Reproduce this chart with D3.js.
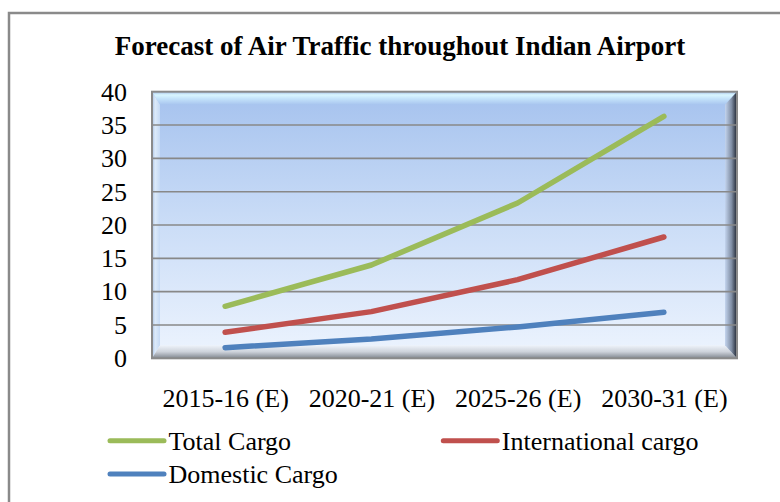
<!DOCTYPE html>
<html lang="en">

<head>
  <meta charset="UTF-8">
  <title>Forecast of Air Traffic throughout Indian Airport</title>
  <style>
    html,
    body {
      width: 100%;
      margin: 0;
      background: #fff;
    }

    svg {
      display: block;
    }

    .tick text {
      font: 26px 'Liberation Serif', 'Times New Roman', serif;
      fill: #000;
    }
  </style>
  <script src="https://cdn.jsdelivr.net/npm/d3@7"></script>
</head>

<body>
  <script>
    // canvas size
    const width = 780
    const height = 502

    // data
    const categories = ['2015-16 (E)', '2020-21 (E)', '2025-26 (E)', '2030-31 (E)']
    const totalCargo = [7.8, 14.0, 23.3, 36.3]
    const internationalCargo = [3.9, 7.0, 11.8, 18.2]
    const domesticCargo = [1.6, 2.9, 4.7, 6.9]
    const yTicks = [0, 5, 10, 15, 20, 25, 30, 35, 40]

    const series = [
      { name: 'Total Cargo', values: totalCargo, color: '#9BBB59' },
      { name: 'International cargo', values: internationalCargo, color: '#C0504D' },
      { name: 'Domestic Cargo', values: domesticCargo, color: '#4F81BD' }
    ]

    // plot box
    const plot = { left: 152, right: 737, top: 91.7, bottom: 358.3 }
    const bevel = { left: 8, right: 12, top: 13, bottom: 13 }

    const svg = d3.select('body').append('svg')
      .attr('width', width)
      .attr('height', height)

    // outer chart frame
    svg.append('rect')
      .attr('x', 9)
      .attr('y', 13)
      .attr('width', 800)
      .attr('height', 520)
      .attr('fill', 'none')
      .attr('stroke', '#8a8a8a')
      .attr('stroke-width', 2.5)

    // title
    svg.append('text')
      .attr('x', 400)
      .attr('y', 55)
      .attr('text-anchor', 'middle')
      .style('font', "bold 27px 'Liberation Serif', 'Times New Roman', serif")
      .text('Forecast of Air Traffic throughout Indian Airport')

    // scales
    const xScale = d3.scalePoint()
      .domain(categories)
      .range([plot.left, plot.right])
      .padding(0.5)

    const yScale = d3.scaleLinear()
      .domain([0, 40])
      .range([plot.bottom, plot.top])

    // gradients for the 3d box
    const defs = svg.append('defs')
    function grad(id, x2, y2, stops) {
      const g = defs.append('linearGradient')
        .attr('id', id)
        .attr('x1', 0).attr('y1', 0)
        .attr('x2', x2).attr('y2', y2)
      stops.forEach(s => g.append('stop').attr('offset', s[0]).attr('stop-color', s[1]))
    }
    grad('wall', 0, 1, [[0, '#A5C2EE'], [0.5, '#CBDDF7'], [1, '#EDF4FE']])
    grad('bTop', 0, 1, [[0, '#A3BEE6'], [0.25, '#D9F6FF'], [0.55, '#C3E2FA'], [1, '#A8C5EF']])
    grad('bLeft', 1, 0, [[0, '#A9C2E6'], [0.4, '#DCEAF9'], [1, '#C5D9F4']])
    grad('bRight', 1, 0, [[0, '#C3D4EE'], [0.55, '#7F8DA3'], [1, '#1E2430']])
    grad('bBottom', 0, 1, [[0, '#EEF3FA'], [0.5, '#CDD2DA'], [1, '#80868F']])

    const box = svg.append('g')
    const L = plot.left, R = plot.right, T = plot.top, B = plot.bottom
    const iL = L + bevel.left, iR = R - bevel.right, iT = T + bevel.top, iB = B - bevel.bottom

    box.append('rect')
      .attr('x', L).attr('y', T)
      .attr('width', R - L).attr('height', B - T)
      .attr('fill', 'url(#wall)')

    const bevels = [
      { fill: 'url(#bTop)', pts: [[L, T], [R, T], [iR, iT], [iL, iT]] },
      { fill: 'url(#bLeft)', pts: [[L, T], [iL, iT], [iL, iB], [L, B]] },
      { fill: 'url(#bBottom)', pts: [[L, B], [iL, iB], [iR, iB], [R, B]] },
      { fill: 'url(#bRight)', pts: [[R, T], [R, B], [iR, iB], [iR, iT]] }
    ]
    box.selectAll('.bevel')
      .data(bevels)
      .enter()
      .append('polygon')
      .attr('class', 'bevel')
      .attr('points', d => d.pts.map(p => p.join(',')).join(' '))
      .attr('fill', d => d.fill)

    // gridlines
    box.selectAll('.grid')
      .data(yTicks.slice(1, -1))
      .enter()
      .append('line')
      .attr('class', 'grid')
      .attr('x1', L)
      .attr('x2', R)
      .attr('y1', d => yScale(d))
      .attr('y2', d => yScale(d))
      .attr('stroke', '#888')
      .attr('stroke-width', 1.6)

    box.append('rect')
      .attr('x', L).attr('y', T)
      .attr('width', R - L).attr('height', B - T)
      .attr('fill', 'none')
      .attr('stroke', '#8a8a8a')
      .attr('stroke-width', 2)

    // axes
    const yAxis = d3.axisLeft(yScale)
      .tickValues(yTicks)
      .tickSize(0)
      .tickPadding(25)
    svg.append('g')
      .attr('transform', `translate(${plot.left}, 0)`)
      .call(yAxis)
      .call(g => g.select('.domain').remove())

    const xAxis = d3.axisBottom(xScale)
      .tickSize(0)
      .tickPadding(30)
    svg.append('g')
      .attr('transform', `translate(0, ${plot.bottom})`)
      .call(xAxis)
      .call(g => g.select('.domain').remove())

    // lines
    const line = d3.line()
      .x((d, i) => xScale(categories[i]))
      .y(d => yScale(d))

    svg.selectAll('.series')
      .data(series)
      .enter()
      .append('path')
      .attr('class', 'series')
      .attr('d', d => line(d.values))
      .attr('fill', 'none')
      .attr('stroke', d => d.color)
      .attr('stroke-width', 5.5)
      .attr('stroke-linecap', 'round')
      .attr('stroke-linejoin', 'round')

    // legend
    const legendPos = [
      { x: 110, y: 440.7 },
      { x: 443.3, y: 440.7 },
      { x: 110, y: 474 }
    ]
    const legend = svg.selectAll('.legend')
      .data(series)
      .enter()
      .append('g')
      .attr('class', 'legend')
      .attr('transform', (d, i) => `translate(${legendPos[i].x}, ${legendPos[i].y})`)

    legend.append('line')
      .attr('x1', 0)
      .attr('x2', 54)
      .attr('stroke', d => d.color)
      .attr('stroke-width', 5)
      .attr('stroke-linecap', 'round')

    legend.append('text')
      .attr('x', 58.5)
      .attr('y', 9.3)
      .style('font', "26px 'Liberation Serif', 'Times New Roman', serif")
      .text(d => d.name)
  </script>
</body>

</html>
